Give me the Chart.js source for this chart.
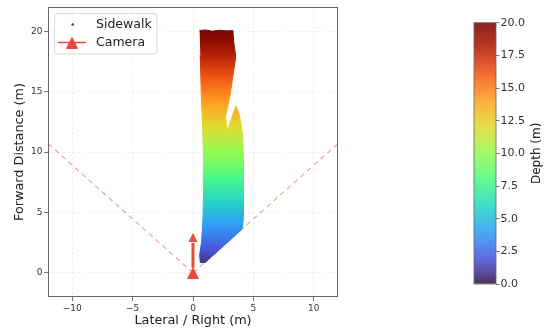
<!DOCTYPE html>
<html><head><meta charset="utf-8">
<script src="https://cdn.jsdelivr.net/npm/chart.js@4/dist/chart.umd.min.js"></script>
<style>
html,body{margin:0;padding:0;background:#fff;width:544px;height:329px;overflow:hidden;}
#main{position:absolute;left:0;top:0;}
#cbar{position:absolute;left:470px;top:0;}
</style></head><body>
<canvas id="main" width="544" height="329"></canvas>
<canvas id="cbar" width="74" height="329"></canvas>
<script>
// ---- data ----
const xTicks = [-10, -5, 0, 5, 10];
const yTicks = [0, 5, 10, 15, 20];
const xRange = [-12, 12];
const yRange = [-2, 22];
// outline of the sidewalk point cloud (lateral, forward) in metres
const sidewalkX = [0.55,1.0,1.6,2.2,2.8,3.3,3.38,3.5,3.5,3.35,3.05,2.65,2.72,2.85,3.2,3.55,3.8,3.98,4.1,4.18,4.2,4.15,4.1,4.0,2.4,1.0,0.6,0.55,0.7,0.82,0.88,0.86,0.78,0.68,0.6];
const sidewalkY = [20.05,20.1,20.0,20.08,20.02,20.05,19.0,18.2,17.6,16.6,14.6,12.75,12.45,11.75,12.8,13.8,13.2,12.3,11.4,9.4,7.1,4.7,3.8,3.55,2.11,0.85,0.85,1.5,2.5,4.4,7.0,10.0,12.5,15.0,18.0];
const cameraX = [0];
const cameraY = [0];
const arrowX = [0, 0];
const arrowY = [0, 3.3];
const fovLeftX = [0, -12];
const fovLeftY = [0, 10.7];
const fovRightX = [0, 12];
const fovRightY = [0, 10.7];
const depthRange = [0, 20];
const depthTicks = [0, 2.5, 5, 7.5, 10, 12.5, 15, 17.5, 20];
const legendLabels = ['Sidewalk', 'Camera'];
// turbo colormap stops
const turboStops = [[0,[48,18,59]],[0.05,[70,54,153]],[0.1,[73,88,221]],[0.2,[47,158,245]],[0.3,[39,215,195]],[0.4,[78,249,131]],[0.5,[150,250,80]],[0.6,[223,220,50]],[0.7,[255,163,35]],[0.8,[244,92,23]],[0.9,[184,32,8]],[0.95,[150,16,2]],[1,[122,4,3]]];

const RED = '#e74c3c';
Chart.defaults.font.family = "'DejaVu Sans', sans-serif";
Chart.defaults.animation = false;

function turboGradient(c, yBottom, yTop, alpha) {
  const g = c.createLinearGradient(0, yBottom, 0, yTop);
  turboStops.forEach(([t, rgb]) => g.addColorStop(t, `rgba(${rgb[0]},${rgb[1]},${rgb[2]},${alpha})`));
  return g;
}
function depthFill(alpha) {
  return (ctx) => {
    const chart = ctx.chart;
    const ys = chart.scales && chart.scales.y;
    if (!chart.chartArea || !ys) return 'rgba(0,0,0,0)';
    return turboGradient(chart.ctx, ys.getPixelForValue(depthRange[0]), ys.getPixelForValue(depthRange[1]), alpha);
  };
}
function triCanvas(w, h, color) {
  const cv = document.createElement('canvas');
  cv.width = w; cv.height = h;
  const c = cv.getContext('2d');
  c.fillStyle = color;
  c.beginPath(); c.moveTo(w / 2, 0); c.lineTo(w, h); c.lineTo(0, h); c.closePath(); c.fill();
  return cv;
}
const camIcon = triCanvas(12, 12, RED);
const pts = (xs, ys) => xs.map((x, i) => ({x, y: ys[i]}));
const minusFmt = v => (v < 0 ? '\u2212' + Math.abs(v) : String(v));

const framePlugin = {
  id: 'frame',
  afterDatasetsDraw(chart) {
    const {ctx, chartArea: a} = chart;
    ctx.save();
    ctx.strokeStyle = '#666'; ctx.lineWidth = 1;
    ctx.strokeRect(Math.round(a.left) + 0.5, Math.round(a.top) + 0.5, Math.round(a.right - a.left) - 1, Math.round(a.bottom - a.top) - 1);
    ctx.restore();
  }
};
const arrowPlugin = {
  id: 'arrow',
  afterDatasetsDraw(chart) {
    const {ctx, scales: {x, y}} = chart;
    const x0 = x.getPixelForValue(arrowX[0]), y0 = y.getPixelForValue(arrowY[0]);
    const x1 = x.getPixelForValue(arrowX[1]), y1 = y.getPixelForValue(arrowY[1]);
    const ang = Math.atan2(y1 - y0, x1 - x0);
    const head = 9, hw = 4.5;
    const bx = x1 - Math.cos(ang) * head, by = y1 - Math.sin(ang) * head;
    ctx.save();
    ctx.strokeStyle = RED; ctx.fillStyle = RED; ctx.lineWidth = 3;
    ctx.beginPath(); ctx.moveTo(x0, y0 - 5); ctx.lineTo(bx, by + 1); ctx.stroke();
    ctx.beginPath();
    ctx.moveTo(x1, y1);
    ctx.lineTo(bx + Math.sin(ang) * hw, by - Math.cos(ang) * hw);
    ctx.lineTo(bx - Math.sin(ang) * hw, by + Math.cos(ang) * hw);
    ctx.closePath(); ctx.fill();
    ctx.restore();
  }
};
const legendPlugin = {
  id: 'insideLegend',
  afterDraw(chart) {
    const ctx = chart.ctx;
    ctx.save();
    const bx = 54.5, by = 13.5, bw = 102.5, bh = 40.5, r = 3;
    ctx.beginPath();
    ctx.moveTo(bx + r, by); ctx.lineTo(bx + bw - r, by); ctx.arcTo(bx + bw, by, bx + bw, by + r, r);
    ctx.lineTo(bx + bw, by + bh - r); ctx.arcTo(bx + bw, by + bh, bx + bw - r, by + bh, r);
    ctx.lineTo(bx + r, by + bh); ctx.arcTo(bx, by + bh, bx, by + bh - r, r);
    ctx.lineTo(bx, by + r); ctx.arcTo(bx, by, bx + r, by, r); ctx.closePath();
    ctx.fillStyle = 'rgba(255,255,255,0.85)'; ctx.fill();
    ctx.strokeStyle = '#d0d0d0'; ctx.lineWidth = 0.8; ctx.stroke();
    // Sidewalk marker
    ctx.fillStyle = '#8c1c0c';
    ctx.beginPath(); ctx.arc(72.7, 24.5, 1.3, 0, Math.PI * 2); ctx.fill();
    // Camera marker
    ctx.strokeStyle = RED; ctx.lineWidth = 1.5;
    ctx.beginPath(); ctx.moveTo(58, 42.5); ctx.lineTo(86, 42.5); ctx.stroke();
    ctx.drawImage(camIcon, 72 - 6, 42.5 - 6);
    ctx.fillStyle = '#222'; ctx.font = "12.5px 'DejaVu Sans'"; ctx.textBaseline = 'middle'; ctx.textAlign = 'left';
    ctx.fillText(legendLabels[0], 96, 24.5);
    ctx.fillText(legendLabels[1], 96, 42.5);
    ctx.restore();
  }
};

const gridOpts = {color: 'rgba(0,0,0,0.09)', lineWidth: 0.8, tickLength: 4, tickColor: '#555', tickWidth: 0.8};

new Chart(document.getElementById('main'), {
  type: 'scatter',
  data: {
    datasets: [
      {label: legendLabels[1], data: pts(cameraX, cameraY), pointStyle: camIcon, pointRadius: 6, showLine: false,
       backgroundColor: RED, borderColor: RED, order: 0},
      {label: legendLabels[0], data: pts(sidewalkX, sidewalkY), showLine: true, fill: 'shape', tension: 0,
       pointRadius: 0, borderWidth: 1, borderColor: depthFill(1), backgroundColor: depthFill(1), order: 1},
      {label: 'FOV left', data: pts(fovLeftX, fovLeftY), showLine: true, fill: false, pointRadius: 0,
       borderColor: 'rgba(231,76,60,0.5)', borderWidth: 1.2, borderDash: [5, 4], order: 2},
      {label: 'FOV right', data: pts(fovRightX, fovRightY), showLine: true, fill: false, pointRadius: 0,
       borderColor: 'rgba(231,76,60,0.5)', borderWidth: 1.2, borderDash: [5, 4], order: 2}
    ]
  },
  options: {
    responsive: false, devicePixelRatio: 1, animation: false,
    layout: {padding: {left: 0, top: 6, right: 206, bottom: 0}},
    plugins: {legend: {display: false}, tooltip: {enabled: false}},
    scales: {
      x: {
        type: 'linear', min: xRange[0], max: xRange[1],
        afterBuildTicks: s => { s.ticks = xTicks.map(v => ({value: v})); },
        afterFit: s => { s.height = 32; },
        ticks: {font: {size: 9}, color: '#333', padding: 2, maxRotation: 0, callback: v => minusFmt(v)},
        grid: gridOpts,
        border: {display: false, dash: [2.5, 2.5]},
        title: {display: true, text: 'Lateral / Right (m)', font: {size: 12.8}, color: '#222', padding: {top: 0, bottom: 0.3}}
      },
      y: {
        type: 'linear', min: yRange[0], max: yRange[1],
        afterBuildTicks: s => { s.ticks = yTicks.map(v => ({value: v})); },
        afterFit: s => { s.width = 48; },
        ticks: {font: {size: 9}, color: '#333', padding: 1.5, callback: v => minusFmt(v)},
        grid: gridOpts,
        border: {display: false, dash: [2.5, 2.5]},
        title: {display: true, text: 'Forward Distance (m)', font: {size: 12.8}, color: '#222', padding: {top: 12.3, bottom: 0}}
      }
    }
  },
  plugins: [framePlugin, arrowPlugin, legendPlugin]
});

const cbarPlugin = {
  id: 'cbarDecor',
  afterDraw(chart) {
    const {ctx, chartArea: a} = chart;
    ctx.save();
    ctx.strokeStyle = '#666'; ctx.lineWidth = 0.8;
    ctx.strokeRect(a.left, a.top, a.right - a.left, a.bottom - a.top);
    ctx.translate(66.7, (a.top + a.bottom) / 2);
    ctx.rotate(-Math.PI / 2);
    ctx.fillStyle = '#222'; ctx.font = "12px 'DejaVu Sans'"; ctx.textAlign = 'center'; ctx.textBaseline = 'middle';
    ctx.fillText('Depth (m)', 0, 0);
    ctx.restore();
  }
};

new Chart(document.getElementById('cbar'), {
  type: 'bar',
  data: {labels: [''], datasets: [{label: 'Depth (m)', data: [depthRange], backgroundColor: depthFill(0.88), borderWidth: 0,
    barPercentage: 1, categoryPercentage: 1}]},
  options: {
    responsive: false, devicePixelRatio: 1, animation: false,
    layout: {padding: {left: 4, top: 22.7, right: 0, bottom: 45}},
    plugins: {legend: {display: false}, tooltip: {enabled: false}},
    scales: {
      x: {display: false},
      y: {
        position: 'right', min: depthRange[0], max: depthRange[1],
        afterBuildTicks: s => { s.ticks = depthTicks.map(v => ({value: v})); },
        afterFit: s => { s.width = 48; },
        ticks: {font: {size: 11}, color: '#333', padding: 1, callback: v => Number(v).toFixed(1)},
        grid: {drawOnChartArea: false, tickLength: 3.5, tickColor: '#555', tickWidth: 0.8},
        border: {display: false}
      }
    }
  },
  plugins: [cbarPlugin]
});
</script>
</body></html>
